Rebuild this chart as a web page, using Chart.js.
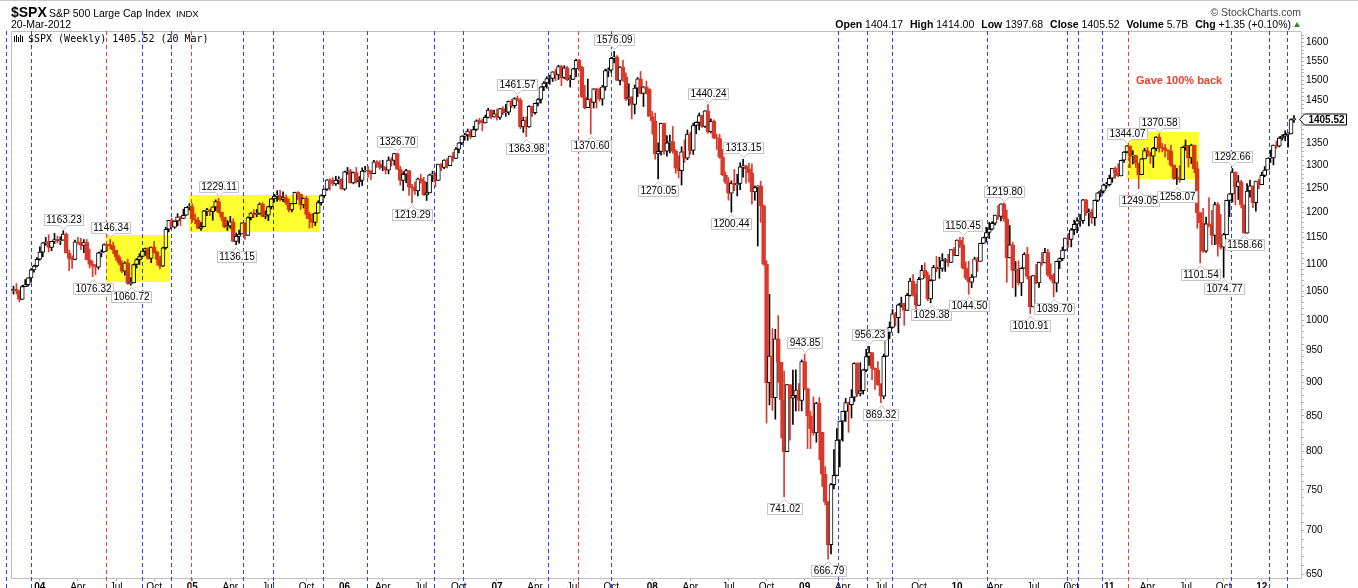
<!DOCTYPE html>
<html>
<head>
<meta charset="utf-8">
<script src="https://cdn.jsdelivr.net/npm/chart.js@4.4.1/dist/chart.umd.min.js"></script>
<style>
  html, body { margin: 0; padding: 0; background: #fff; overflow: hidden; width: 1358px; height: 588px; }
  #wrap { position: relative; width: 1358px; height: 600px; }
  #c { position: absolute; left: 0; top: 0; }
  .t { position: absolute; white-space: nowrap; line-height: 1; font-family: "Liberation Sans", Arial, sans-serif; color: #000; }
  .mono { font-family: "DejaVu Sans Mono", monospace; }
  #topline { position: absolute; left: 0; top: 0; width: 1358px; height: 1px; background: #c8c8c8; }
  #tri { position: absolute; left: 1294px; top: 22px; width: 0; height: 0;
         border-left: 3.5px solid transparent; border-right: 3.5px solid transparent; border-bottom: 5px solid #2e8b2e; }
  .gap { display: inline-block; width: 7px; }
</style>
</head>
<body>
<div id="wrap">
  <canvas id="c" width="1358" height="600"></canvas>
  <div id="topline"></div>
  <div class="t" style="left:11px;top:5px;font-size:14px;font-weight:bold">$SPX</div>
  <div class="t" style="left:49px;top:8px;font-size:10.5px">S&amp;P 500 Large Cap Index</div>
  <div class="t" style="left:176px;top:9px;font-size:9.5px">INDX</div>
  <div class="t" style="left:11px;top:19px;font-size:10.5px">20-Mar-2012</div>
  <div class="t" style="right:57px;top:7px;font-size:10.5px;color:#444">&copy; StockCharts.com</div>
  <div class="t" id="quote" style="right:67px;top:19px;font-size:10.5px"></div>
  <div id="tri"></div>
  <div class="t mono" id="legend" style="left:28px;top:33.5px;font-size:10px"></div>
</div>
<script>
// S&P 500 weekly candles, week 0 = week of 3 Nov 2003, last = week of 19 Mar 2012
const startDate = Date.UTC(2003, 10, 3);
const firstOpen = 1050.71;   // close of 31 Oct 2003

const closes = [
  1053.2, 1050.4, 1035.3, 1058.2, 1061.5, 1074.1, 1088.7, 1095.9, 1108.5, 1121.9,
  1139.8, 1141.6, 1131.1, 1142.8, 1145.8, 1144.1, 1144.9, 1156.9, 1120.6, 1109.8,
  1108.1, 1141.8, 1139.3, 1134.6, 1140.6, 1107.3, 1098.7, 1095.7, 1093.6, 1120.7,
  1122.5, 1136.5, 1135.0, 1134.4, 1125.4, 1112.8, 1101.4, 1086.2, 1101.7, 1064.0,
  1064.8, 1098.6, 1107.8, 1113.6, 1123.9, 1128.6, 1110.1, 1131.5, 1122.1, 1108.2,
  1095.7, 1130.2, 1166.2, 1184.2, 1170.3, 1182.7, 1191.2, 1188.0, 1194.2, 1210.1,
  1211.9, 1186.2, 1184.5, 1167.9, 1171.4, 1203.0, 1205.3, 1201.6, 1211.4, 1222.1,
  1200.1, 1190.2, 1171.4, 1172.9, 1181.2, 1142.6, 1152.1, 1156.9, 1178.8, 1154.1,
  1189.3, 1198.8, 1196.0, 1198.1, 1217.0, 1191.6, 1194.4, 1211.9, 1227.9, 1233.7,
  1234.2, 1226.4, 1230.4, 1219.7, 1205.1, 1218.0, 1241.5, 1237.9, 1215.3, 1228.8,
  1195.9, 1186.6, 1179.6, 1198.4, 1220.1, 1234.7, 1248.3, 1268.3, 1265.1, 1259.4,
  1267.3, 1268.7, 1248.3, 1285.5, 1287.6, 1261.5, 1283.7, 1264.0, 1267.0, 1287.2,
  1289.4, 1287.2, 1281.4, 1307.3, 1303.0, 1294.8, 1295.5, 1289.1, 1311.3, 1310.6,
  1325.8, 1291.2, 1267.0, 1280.2, 1288.2, 1252.3, 1251.5, 1244.5, 1270.2, 1265.5,
  1236.2, 1240.3, 1278.6, 1279.4, 1266.7, 1302.3, 1295.1, 1311.0, 1298.9, 1319.9,
  1314.8, 1335.8, 1350.0, 1365.6, 1368.6, 1377.3, 1364.3, 1380.9, 1401.2, 1401.0,
  1396.7, 1409.8, 1427.1, 1410.8, 1418.3, 1409.7, 1430.7, 1420.6, 1422.2, 1448.4,
  1438.1, 1455.5, 1451.2, 1387.2, 1402.8, 1387.0, 1436.1, 1420.9, 1443.8, 1452.9,
  1484.4, 1494.1, 1505.6, 1505.9, 1522.8, 1515.7, 1536.3, 1507.7, 1532.9, 1502.6,
  1503.4, 1530.4, 1552.5, 1534.1, 1459.0, 1433.1, 1453.6, 1445.9, 1479.4, 1474.0,
  1453.6, 1484.3, 1525.8, 1526.8, 1557.6, 1561.8, 1500.6, 1535.3, 1509.7, 1453.7,
  1458.7, 1440.7, 1481.1, 1504.7, 1468.0, 1484.5, 1478.5, 1411.6, 1401.0, 1325.2,
  1330.6, 1395.4, 1331.3, 1350.0, 1353.1, 1330.6, 1293.4, 1288.1, 1329.5, 1315.2,
  1370.4, 1332.8, 1390.3, 1397.8, 1413.9, 1388.3, 1425.4, 1375.9, 1400.4, 1360.7,
  1360.0, 1317.9, 1278.4, 1262.9, 1239.5, 1260.7, 1257.8, 1260.3, 1296.3, 1298.2,
  1292.2, 1282.8, 1242.3, 1251.7, 1255.1, 1213.3, 1099.2, 899.2, 940.6, 876.8,
  968.8, 931.0, 873.3, 800.0, 896.2, 876.1, 879.7, 887.9, 872.8, 931.8,
  890.4, 850.1, 832.0, 825.9, 868.6, 826.8, 770.1, 735.1, 683.4, 756.6,
  768.5, 815.9, 842.5, 856.6, 869.6, 866.2, 877.5, 929.2, 882.9, 887.0,
  919.1, 940.1, 946.2, 921.2, 918.9, 896.4, 879.1, 940.4, 979.3, 987.5,
  1010.5, 1004.1, 1026.1, 1028.9, 1016.4, 1042.7, 1068.3, 1044.4, 1025.2, 1071.5,
  1087.7, 1079.6, 1036.2, 1069.3, 1093.5, 1091.4, 1091.5, 1106.0, 1106.4, 1102.5,
  1126.5, 1115.1, 1145.0, 1136.0, 1091.8, 1073.9, 1066.2, 1075.5, 1109.2, 1104.5,
  1138.7, 1150.0, 1159.9, 1166.6, 1178.1, 1194.4, 1192.1, 1217.3, 1186.7, 1110.9,
  1135.7, 1087.7, 1089.4, 1064.9, 1091.6, 1117.5, 1076.8, 1022.6, 1078.0, 1064.9,
  1102.7, 1101.6, 1121.6, 1079.3, 1071.7, 1064.6, 1104.5, 1109.6, 1125.6, 1148.7,
  1146.2, 1165.2, 1176.2, 1183.1, 1183.3, 1225.9, 1199.2, 1199.7, 1189.4, 1224.7,
  1240.4, 1243.9, 1256.8, 1257.6, 1271.5, 1293.2, 1283.4, 1276.3, 1310.9, 1329.2,
  1343.0, 1319.9, 1321.2, 1304.3, 1279.2, 1313.8, 1332.4, 1328.2, 1319.7, 1337.4,
  1363.6, 1340.2, 1337.8, 1333.3, 1331.1, 1300.2, 1271.0, 1271.5, 1268.5, 1339.7,
  1343.8, 1316.1, 1345.0, 1292.3, 1199.4, 1178.8, 1123.5, 1176.8, 1174.0, 1154.2,
  1216.0, 1136.4, 1131.4, 1155.5, 1224.6, 1238.3, 1285.1, 1253.2, 1263.9, 1215.7,
  1158.7, 1244.3, 1255.2, 1219.7, 1265.3, 1257.6, 1277.8, 1289.1, 1315.4, 1316.3,
  1344.9, 1342.6, 1361.2, 1365.7, 1369.6, 1370.9, 1404.17, 1405.52
];

const highs = [
  1059.0, 1063.7, 1051.4, 1060.6, 1071.0, 1074.3, 1091.1, 1097.6, 1111.6, 1131.9,
  1140.1, 1150.1, 1155.4, 1142.8, 1158.0, 1152.6, 1151.4, 1163.23, 1159.0, 1125.6,
  1115.0, 1144.8, 1150.6, 1148.2, 1146.0, 1146.2, 1127.7, 1105.0, 1098.6, 1122.0,
  1126.2, 1137.8, 1136.9, 1146.34, 1141.0, 1125.4, 1116.0, 1106.0, 1103.5, 1108.6,
  1074.2, 1099.5, 1109.7, 1119.0, 1124.0, 1129.8, 1130.2, 1131.7, 1142.1, 1124.5,
  1114.6, 1131.4, 1170.0, 1184.2, 1188.5, 1183.0, 1197.5, 1192.0, 1206.6, 1211.0,
  1217.9, 1217.8, 1196.6, 1190.0, 1180.0, 1204.4, 1208.4, 1206.9, 1211.4, 1225.7,
  1229.11, 1200.1, 1190.2, 1184.0, 1191.9, 1187.0, 1159.0, 1164.8, 1178.9, 1178.9,
  1191.1, 1199.6, 1205.6, 1206.0, 1219.6, 1220.0, 1203.0, 1212.7, 1229.0, 1237.0,
  1245.0, 1245.9, 1242.6, 1236.0, 1228.0, 1218.6, 1242.0, 1243.1, 1237.9, 1229.9,
  1233.3, 1199.7, 1197.3, 1199.7, 1224.0, 1236.0, 1248.3, 1268.8, 1270.6, 1272.9,
  1275.8, 1275.0, 1270.5, 1286.8, 1294.9, 1290.8, 1285.0, 1294.9, 1275.0, 1294.0,
  1297.6, 1297.2, 1288.2, 1310.9, 1310.0, 1310.0, 1310.9, 1295.5, 1318.2, 1317.0,
  1325.9, 1326.70, 1297.6, 1285.6, 1290.7, 1288.2, 1258.6, 1263.0, 1272.0, 1280.2,
  1273.3, 1262.7, 1280.4, 1287.0, 1283.4, 1302.3, 1303.5, 1312.0, 1314.7, 1320.0,
  1328.5, 1339.2, 1350.7, 1366.0, 1372.0, 1382.0, 1381.0, 1388.6, 1403.8, 1407.0,
  1406.0, 1415.0, 1431.6, 1428.0, 1427.0, 1429.4, 1431.6, 1435.3, 1440.7, 1449.3,
  1453.0, 1457.6, 1461.57, 1456.0, 1410.0, 1411.0, 1437.8, 1437.0, 1444.0, 1455.0,
  1485.4, 1498.0, 1510.0, 1513.8, 1522.8, 1529.3, 1540.0, 1540.0, 1538.7, 1537.0,
  1514.0, 1531.9, 1555.9, 1555.1, 1538.0, 1488.3, 1503.9, 1456.0, 1480.0, 1481.0,
  1481.5, 1488.0, 1530.0, 1533.0, 1561.0, 1576.09, 1565.0, 1536.0, 1552.8, 1520.0,
  1492.1, 1460.0, 1488.9, 1508.0, 1523.6, 1485.0, 1498.9, 1480.0, 1424.0, 1420.0,
  1350.0, 1396.0, 1396.0, 1367.0, 1368.0, 1388.0, 1335.0, 1321.0, 1341.0, 1357.0,
  1380.0, 1375.0, 1395.9, 1399.1, 1420.0, 1415.0, 1425.8, 1440.24, 1406.0, 1404.0,
  1370.0, 1370.0, 1335.0, 1285.0, 1273.0, 1266.0, 1290.7, 1280.0, 1305.0, 1313.15,
  1300.0, 1304.0, 1303.0, 1255.0, 1255.1, 1265.0, 1215.0, 1106.0, 1044.3, 985.4,
  984.4, 1007.5, 929.6, 917.0, 896.2, 896.0, 918.8, 918.9, 898.0, 934.7,
  943.85, 891.0, 857.0, 877.9, 870.0, 877.0, 826.8, 780.0, 735.1, 758.3,
  803.0, 832.0, 842.6, 856.9, 875.6, 870.4, 888.7, 930.2, 930.2, 930.2,
  920.0, 951.7, 956.23, 946.2, 922.0, 931.9, 898.0, 943.9, 979.8, 996.7,
  1018.0, 1013.1, 1027.6, 1039.5, 1028.0, 1046.0, 1073.0, 1080.2, 1063.0, 1075.0,
  1097.0, 1101.4, 1085.0, 1071.0, 1097.0, 1113.7, 1112.4, 1119.1, 1110.0, 1117.7,
  1126.5, 1130.4, 1145.4, 1150.4, 1150.45, 1103.7, 1104.7, 1080.0, 1112.4, 1112.0,
  1139.0, 1151.0, 1170.0, 1180.2, 1181.4, 1194.7, 1213.9, 1217.6, 1219.80, 1205.0,
  1173.6, 1141.0, 1104.0, 1105.7, 1093.0, 1121.0, 1131.2, 1076.8, 1078.0, 1099.1,
  1103.0, 1120.9, 1129.2, 1127.3, 1100.0, 1082.0, 1105.0, 1110.9, 1131.5, 1148.9,
  1158.0, 1167.7, 1184.4, 1189.4, 1196.1, 1227.1, 1227.1, 1207.4, 1206.0, 1225.6,
  1240.9, 1246.7, 1259.3, 1262.6, 1278.2, 1293.2, 1296.1, 1302.7, 1311.0, 1330.4,
  1344.07, 1337.0, 1332.3, 1322.0, 1304.3, 1315.0, 1337.8, 1339.5, 1329.0, 1340.0,
  1364.5, 1370.58, 1348.9, 1346.0, 1334.0, 1345.2, 1300.2, 1292.5, 1298.6, 1341.0,
  1356.5, 1343.8, 1347.0, 1345.0, 1307.4, 1199.4, 1208.5, 1190.7, 1230.7, 1204.4,
  1220.4, 1220.4, 1195.9, 1158.3, 1224.6, 1239.0, 1292.66, 1285.1, 1277.6, 1267.0,
  1215.65, 1260.1, 1267.1, 1255.2, 1265.4, 1269.4, 1284.6, 1296.8, 1315.5, 1333.5,
  1345.3, 1354.3, 1364.2, 1368.9, 1378.0, 1374.0, 1405.9, 1414.00
];

const lows = [
  1045.0, 1045.0, 1031.2, 1035.3, 1058.0, 1059.0, 1066.0, 1084.2, 1094.1, 1106.6,
  1113.0, 1135.0, 1122.4, 1124.5, 1138.0, 1138.9, 1136.2, 1144.9, 1120.0, 1087.2,
  1091.3, 1107.1, 1137.0, 1126.7, 1120.9, 1107.3, 1092.2, 1076.32, 1079.6, 1090.0,
  1113.0, 1122.0, 1124.0, 1128.0, 1119.0, 1106.0, 1098.0, 1083.5, 1078.8, 1062.2,
  1060.72, 1064.8, 1092.0, 1098.5, 1113.6, 1115.7, 1108.3, 1102.0, 1120.0, 1097.8,
  1090.2, 1094.8, 1127.6, 1161.0, 1169.2, 1167.8, 1173.0, 1173.7, 1188.0, 1194.0,
  1204.9, 1180.2, 1176.8, 1167.8, 1163.8, 1171.4, 1193.6, 1193.1, 1184.2, 1203.6,
  1198.5, 1183.0, 1168.7, 1163.7, 1168.0, 1141.9, 1136.15, 1139.2, 1156.9, 1146.2,
  1154.1, 1185.0, 1189.2, 1191.0, 1196.0, 1191.0, 1187.0, 1183.5, 1207.0, 1221.0,
  1222.6, 1223.4, 1222.0, 1215.5, 1201.0, 1201.1, 1218.0, 1226.0, 1205.8, 1209.0,
  1187.6, 1168.2, 1170.0, 1173.6, 1198.4, 1215.0, 1230.0, 1245.7, 1246.0, 1255.8,
  1256.0, 1259.0, 1248.3, 1245.7, 1280.0, 1260.9, 1259.4, 1261.0, 1253.0, 1256.0,
  1285.0, 1273.2, 1268.4, 1281.4, 1295.0, 1291.0, 1288.0, 1280.7, 1280.7, 1298.0,
  1300.0, 1290.0, 1256.3, 1245.3, 1262.0, 1235.0, 1219.29, 1237.0, 1234.0, 1261.0,
  1235.0, 1224.5, 1240.0, 1264.0, 1253.0, 1266.7, 1288.0, 1292.0, 1294.0, 1298.9,
  1309.0, 1314.8, 1327.0, 1346.0, 1356.0, 1356.0, 1360.0, 1364.0, 1378.6, 1394.0,
  1377.8, 1396.0, 1408.0, 1406.0, 1410.0, 1403.0, 1405.0, 1416.0, 1412.0, 1416.0,
  1433.0, 1432.0, 1449.0, 1383.0, 1374.1, 1363.98, 1386.0, 1412.0, 1417.0, 1437.0,
  1444.0, 1475.0, 1481.0, 1491.0, 1498.0, 1500.0, 1503.0, 1487.0, 1505.0, 1500.0,
  1484.0, 1503.0, 1510.0, 1525.0, 1458.0, 1430.0, 1433.0, 1370.60, 1432.0, 1432.0,
  1449.0, 1439.0, 1476.0, 1510.0, 1521.0, 1546.0, 1500.0, 1489.6, 1498.0, 1450.0,
  1438.5, 1406.1, 1418.0, 1460.0, 1467.0, 1435.7, 1467.0, 1411.6, 1370.0, 1313.0,
  1270.05, 1322.0, 1324.0, 1320.0, 1327.0, 1326.0, 1282.0, 1272.0, 1257.0, 1306.0,
  1312.0, 1324.0, 1324.0, 1371.0, 1380.0, 1386.0, 1386.0, 1372.0, 1373.0, 1359.0,
  1335.0, 1315.0, 1277.0, 1260.0, 1225.0, 1200.44, 1245.0, 1234.0, 1247.0, 1274.0,
  1261.0, 1263.0, 1217.0, 1225.0, 1133.5, 1180.0, 1097.0, 839.8, 866.0, 858.0,
  845.3, 899.7, 818.7, 741.02, 800.0, 815.7, 837.9, 857.1, 857.3, 857.3,
  888.5, 804.3, 804.2, 822.5, 813.0, 789.2, 754.1, 731.0, 666.79, 672.9,
  751.0, 768.0, 779.8, 814.5, 842.0, 826.8, 847.1, 871.0, 878.9, 879.2,
  882.0, 916.0, 926.0, 903.8, 888.9, 895.0, 869.32, 875.0, 940.0, 969.0,
  987.0, 990.0, 978.5, 1022.0, 991.0, 1016.4, 1041.0, 1041.0, 1019.0, 1025.2,
  1072.0, 1074.0, 1033.0, 1029.38, 1069.3, 1085.0, 1073.0, 1086.0, 1085.9, 1095.0,
  1102.5, 1114.8, 1115.0, 1131.0, 1090.2, 1071.0, 1044.50, 1056.5, 1075.5, 1086.0,
  1105.0, 1138.0, 1141.0, 1148.0, 1165.0, 1175.0, 1186.0, 1183.0, 1181.6, 1065.8,
  1110.9, 1055.9, 1040.8, 1060.9, 1042.2, 1091.6, 1071.6, 1010.91, 1022.6, 1063.3,
  1056.9, 1097.0, 1101.6, 1076.6, 1069.5, 1039.70, 1048.8, 1091.0, 1106.0, 1125.0,
  1131.0, 1131.9, 1155.7, 1159.7, 1171.7, 1177.7, 1194.0, 1173.0, 1177.7, 1173.6,
  1222.0, 1232.0, 1240.0, 1250.0, 1255.0, 1262.7, 1271.3, 1275.0, 1276.3, 1306.0,
  1327.0, 1294.3, 1302.6, 1295.0, 1249.05, 1279.2, 1313.8, 1318.9, 1303.7, 1294.7,
  1332.0, 1329.2, 1329.2, 1318.5, 1311.8, 1297.0, 1268.5, 1258.07, 1262.7, 1268.45,
  1333.2, 1295.9, 1303.5, 1282.9, 1168.1, 1101.54, 1121.1, 1121.1, 1170.6, 1136.1,
  1136.1, 1114.2, 1127.4, 1074.77, 1155.5, 1191.5, 1221.1, 1215.4, 1226.6, 1209.0,
  1158.66, 1158.7, 1231.5, 1209.5, 1202.4, 1248.6, 1257.6, 1274.6, 1290.2, 1306.1,
  1300.5, 1337.6, 1340.8, 1356.2, 1354.9, 1340.0, 1370.9, 1397.68
];

// x axis: first week of these months, and their labels
const tickMonths = ['2004-01','2004-04','2004-07','2004-10','2005-01','2005-04','2005-07','2005-10',
  '2006-01','2006-04','2006-07','2006-10','2007-01','2007-04','2007-07','2007-10',
  '2008-01','2008-04','2008-07','2008-10','2009-01','2009-04','2009-07','2009-10',
  '2010-01','2010-04','2010-07','2010-10','2011-01','2011-04','2011-07','2011-10','2012-01'];
const tickLabels = ['04','Apr','Jul','Oct','05','Apr','Jul','Oct','06','Apr','Jul','Oct',
  '07','Apr','Jul','Oct','08','Apr','Jul','Oct','09','Apr','Jul','Oct',
  '10','Apr','Jul','Oct','11','Apr','Jul','Oct','12'];
const priceLabels = [650, 700, 750, 800, 850, 900, 950, 1000, 1050, 1100, 1150, 1200,
  1250, 1300, 1350, 1400, 1450, 1500, 1550, 1600];

// cycle lines (week numbers, estimated)
const blueCycles = [-2.46, 5.87, 43.75, 53.65, 78.43, 88.67, 105.73, 120.55, 143.62, 153.52,
  182.53, 203.82, 281.5, 291.4, 299.7, 332.35, 359.66, 363.41, 371.6, 415.6, 428.6, 434.5];
const redCycles = [31.67, 60.68, 192.56, 380.48];

// highlighted zones: [from week, to week, low, high]
const zones = [[31.6, 53.4, 1067, 1155], [60.0, 104.6, 1161.6, 1236], [379.9, 404.6, 1270, 1374]];

// callouts [week, value]
const highMarks = [[17, 1163.23], [33, 1146.34], [70, 1229.11], [131, 1326.70], [172, 1461.57],
  [205, 1576.09], [237, 1440.24], [249, 1313.15], [270, 943.85], [292, 956.23], [324, 1150.45],
  [338, 1219.80], [380, 1344.07], [391, 1370.58], [416, 1292.66]];
const lowMarks = [[27, 1076.32], [40, 1060.72], [76, 1136.15], [136, 1219.29], [175, 1363.98],
  [197, 1370.60], [220, 1270.05], [245, 1200.44], [263, 741.02], [278, 666.79], [296, 869.32],
  [313, 1029.38], [326, 1044.50], [347, 1010.91], [355, 1039.70], [384, 1249.05], [397, 1258.07],
  [405, 1101.54], [413, 1074.77], [420, 1158.66]];
const noteText = { week: 397.8, price: 1500, text: 'Gave 100% back' };

const FONT = '"Liberation Sans", Arial, sans-serif';
const RED = '#d8392b';
const WEEK_MS = 7 * 86400000;

function weekOfMonth(ym) {
  const [y, m] = ym.split('-').map(Number);
  const d = new Date(Date.UTC(y, m - 1, 1));
  const shift = (8 - d.getUTCDay()) % 7;   // first Monday
  return (d.getTime() + shift * 86400000 - startDate) / WEEK_MS;
}
const tickWeeks = tickMonths.map(weekOfMonth);

const opens = closes.map((c, i) => i === 0 ? firstOpen : closes[i - 1]);
const up = closes.map((c, i) => c >= opens[i]);
const last = closes.length - 1;

// header texts from the last bar
const chg = closes[last] - closes[last - 1];
document.getElementById('quote').innerHTML =
  '<b>Open</b> ' + opens[last].toFixed(2) + '<span class="gap"></span><b>High</b> ' + highs[last].toFixed(2) +
  '<span class="gap"></span><b>Low</b> ' + lows[last].toFixed(2) + '<span class="gap"></span><b>Close</b> ' +
  closes[last].toFixed(2) + '<span class="gap"></span><b>Volume</b> 5.7B<span class="gap"></span><b>Chg</b> +' +
  chg.toFixed(2) + ' (+' + (chg / closes[last - 1] * 100).toFixed(2) + '%)';
document.getElementById('legend').textContent = '$SPX (Weekly) ' + closes[last].toFixed(2) + ' (20 Mar)';

function callout(ctx, x, y, text, above) {
  ctx.font = '10px ' + FONT;
  const w = Math.round(ctx.measureText(text).width) + 4;
  const h = 11;
  const cx = Math.round(x) + 0.5;
  const x0 = Math.round(x - w / 2) + 0.5, x1 = x0 + w;
  let y0, y1;
  if (above) { y1 = Math.round(y - 6) + 0.5; y0 = y1 - h; }
  else { y0 = Math.round(y + 6) + 0.5; y1 = y0 + h; }
  ctx.beginPath();
  ctx.moveTo(x0, y0);
  if (!above) { ctx.lineTo(cx - 4, y0); ctx.lineTo(cx, y0 - 4); ctx.lineTo(cx + 4, y0); }
  ctx.lineTo(x1, y0);
  ctx.lineTo(x1, y1);
  if (above) { ctx.lineTo(cx + 4, y1); ctx.lineTo(cx, y1 + 4); ctx.lineTo(cx - 4, y1); }
  ctx.lineTo(x0, y1);
  ctx.closePath();
  ctx.fillStyle = '#fff';
  ctx.fill();
  ctx.strokeStyle = '#c4c4c4';
  ctx.lineWidth = 1;
  ctx.stroke();
  ctx.fillStyle = '#000';
  ctx.textAlign = 'center';
  ctx.textBaseline = 'middle';
  ctx.fillText(text, (x0 + x1) / 2, (y0 + y1) / 2 + 0.5);
}

const overlay = {
  id: 'overlay',
  beforeDatasetsDraw(chart) {
    const { ctx, chartArea: a, scales: { x } } = chart;
    ctx.save();
    ctx.fillStyle = '#c0c0c0';
    ctx.fillRect(a.left, a.top - 1, a.right - a.left, 1);
    ctx.fillRect(a.left, a.top - 1, 1, a.bottom - a.top + 1);
    ctx.lineWidth = 1;
    ctx.setLineDash([4, 3]);
    const lines = blueCycles.map(w => [w, '#2443ff']).concat(redCycles.map(w => [w, '#e8452f']));
    lines.forEach(([w, col]) => {
      const px = Math.round(x.getPixelForValue(w)) + 0.5;
      ctx.strokeStyle = col;
      ctx.beginPath();
      ctx.moveTo(px, a.top - 1);
      ctx.lineTo(px, 600);
      ctx.stroke();
    });
    ctx.setLineDash([]);
    // legend icon
    ctx.fillStyle = '#000';
    ctx.fillRect(14, 36, 1, 6); ctx.fillRect(16, 35, 1, 7); ctx.fillRect(18, 37, 1, 5);
    ctx.fillRect(20, 35, 1, 7); ctx.fillRect(22, 36, 1, 6);
    ctx.restore();
  },
  afterDatasetsDraw(chart) {
    const { ctx, scales: { x, y } } = chart;
    ctx.save();
    ctx.globalCompositeOperation = 'multiply';
    ctx.fillStyle = '#ffff30';
    zones.forEach(([w0, w1, lo, hi]) => {
      const px0 = Math.round(x.getPixelForValue(w0)), px1 = Math.round(x.getPixelForValue(w1));
      const py0 = Math.round(y.getPixelForValue(hi)), py1 = Math.round(y.getPixelForValue(lo));
      ctx.fillRect(px0, py0, px1 - px0, py1 - py0);
    });
    ctx.globalCompositeOperation = 'source-over';
    highMarks.forEach(([w, v]) => callout(ctx, x.getPixelForValue(w), y.getPixelForValue(v), v.toFixed(2), true));
    lowMarks.forEach(([w, v]) => callout(ctx, x.getPixelForValue(w), y.getPixelForValue(v), v.toFixed(2), false));
    ctx.font = 'bold 11px ' + FONT;
    ctx.fillStyle = '#e8412c';
    ctx.textAlign = 'center';
    ctx.textBaseline = 'middle';
    ctx.fillText(noteText.text, x.getPixelForValue(noteText.week), y.getPixelForValue(noteText.price));
    ctx.restore();
  },
  afterDraw(chart) {
    const { ctx, chartArea: a, scales: { y } } = chart;
    const yc = Math.round(y.getPixelForValue(closes[last])) + 0.5;
    const x0 = a.right - 1.5, x1 = x0 + 5, x2 = x1 + 42;
    ctx.save();
    ctx.beginPath();
    ctx.moveTo(x0, yc);
    ctx.lineTo(x1, yc - 5.5);
    ctx.lineTo(x2, yc - 5.5);
    ctx.lineTo(x2, yc + 5.5);
    ctx.lineTo(x1, yc + 5.5);
    ctx.closePath();
    ctx.fillStyle = '#fff';
    ctx.fill();
    ctx.strokeStyle = '#000';
    ctx.lineWidth = 1;
    ctx.stroke();
    ctx.font = 'bold 10px ' + FONT;
    ctx.fillStyle = '#000';
    ctx.textAlign = 'center';
    ctx.textBaseline = 'middle';
    ctx.fillText(closes[last].toFixed(2), (x1 + x2) / 2 + 1, yc + 0.5);
    ctx.restore();
  }
};

Chart.defaults.font.family = FONT;

new Chart(document.getElementById('c'), {
  type: 'bar',
  data: {
    datasets: [
      {
        data: closes.map((c, i) => ({ x: i, y: [opens[i], c] })),
        order: 0, grouped: false, barThickness: 4, minBarLength: 1,
        borderWidth: 1, borderSkipped: false,
        backgroundColor: up.map(u => u ? '#ffffff' : RED),
        borderColor: up.map(u => u ? '#000000' : RED)
      },
      {
        data: closes.map((c, i) => ({ x: i, y: [lows[i], highs[i]] })),
        order: 1, grouped: false, barThickness: 1, borderWidth: 0,
        backgroundColor: up.map(u => u ? '#000000' : RED)
      }
    ]
  },
  options: {
    responsive: false,
    animation: false,
    devicePixelRatio: 1,
    layout: { padding: { left: 11, top: 32, right: 0, bottom: 0 } },
    plugins: { legend: { display: false }, tooltip: { enabled: false } },
    scales: {
      x: {
        type: 'linear', min: -0.85, max: 439.4, offset: false, bounds: 'data',
        grid: { drawOnChartArea: false, offset: false, tickLength: 3, color: '#b0b0b0' },
        border: { display: true, color: '#c0c0c0' },
        afterBuildTicks: s => { s.ticks = tickWeeks.map((w, k) => ({ value: w, major: tickLabels[k].length === 2 })); },
        afterFit: s => { s.height = 22; },
        ticks: {
          autoSkip: false, maxRotation: 0, padding: 0, color: '#000',
          callback: (v, k) => tickLabels[k],
          font: c => ({ size: 10, family: FONT, weight: c.tick && c.tick.major ? 'bold' : 'normal' })
        }
      },
      y: {
        type: 'logarithmic', position: 'right', min: 645.9, max: 1629, bounds: 'data',
        grid: { drawOnChartArea: false, tickLength: 3, color: '#b0b0b0' },
        border: { display: true, color: '#c0c0c0' },
        afterBuildTicks: s => {
          const t = [];
          for (let v = 650; v <= 1620; v += 10) t.push({ value: v });
          s.ticks = t;
        },
        afterFit: s => { s.width = 57; },
        ticks: {
          autoSkip: false, padding: 2, color: '#000', font: { size: 10 },
          callback: v => priceLabels.includes(v) ? String(v) : ''
        }
      }
    }
  },
  plugins: [overlay]
});
</script>
</body>
</html>
